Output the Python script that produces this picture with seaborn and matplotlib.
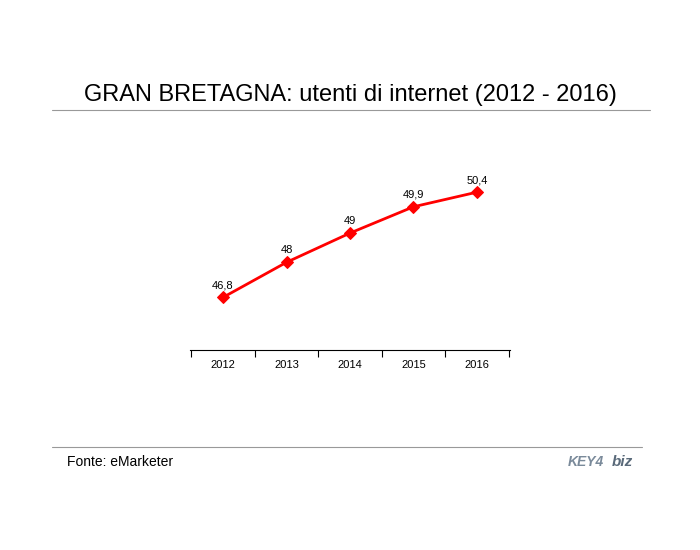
import matplotlib
matplotlib.use("Agg")
import matplotlib.pyplot as plt
import seaborn as sns
import pandas as pd

years = ["2012", "2013", "2014", "2015", "2016"]
users = [46.8, 48.0, 49.0, 49.9, 50.4]
labels = ["46,8", "48", "49", "49,9", "50,4"]

sns.set_style("white")
plt.rcParams['font.family'] = ['Liberation Sans', 'DejaVu Sans']
plt.rcParams['text.color'] = 'black'
plt.rcParams['xtick.color'] = 'black'

fig = plt.figure(figsize=(7, 5.5), dpi=100)
ax = fig.add_axes([190/700, 1-350/550, 320/700, 190/550])
df = pd.DataFrame({"x": range(len(years)), "y": users})
sns.lineplot(data=df, x="x", y="y", ax=ax, color="red", lw=2, marker="D",
             markersize=6, markeredgecolor="red")
for i, (v, l) in enumerate(zip(users, labels)):
    ax.annotate(l, (i, v), xytext=(0, 5), textcoords="offset points",
                ha="center", va="bottom", fontsize=8, color="black")
ax.set_xlim(-0.52, 4.52)
ax.set_ylim(45, 51.5)
ax.set_yticks([])
ax.set_xticks([i - 0.5 for i in range(6)])
ax.set_xticklabels([])
ax.set_xticks(range(5), minor=True)
ax.set_xticklabels(years, minor=True, fontsize=8)
ax.tick_params(axis="x", which="major", length=5, direction="out", bottom=True, color="black")
ax.tick_params(axis="x", which="minor", length=0, pad=7)
ax.set_xlabel(""); ax.set_ylabel("")
for s in ["top", "right", "left"]:
    ax.spines[s].set_visible(False)
ax.spines["bottom"].set_color("black")

fig.text(350/700, 1-95/550, "GRAN BRETAGNA: utenti di internet (2012 - 2016)",
         ha="center", va="center", fontsize=17)
fig.add_artist(plt.Line2D([52/700, 650/700], [1-110/550]*2, color="#999999", lw=0.8))
fig.add_artist(plt.Line2D([52/700, 642/700], [1-447/550]*2, color="#999999", lw=0.8))
fig.text(67/700, 1-462/550, "Fonte: eMarketer", ha="left", va="center", fontsize=10)
fig.text(568/700, 1-462/550, "KEY4", ha="left", va="center", fontsize=10,
         color="#7a8a9a", fontweight="bold", style="italic")
fig.text(612/700, 1-462/550, "biz", ha="left", va="center", fontsize=11,
         color="#5a6a7a", fontweight="bold", style="italic")
fig.savefig("out.png", dpi=100)
